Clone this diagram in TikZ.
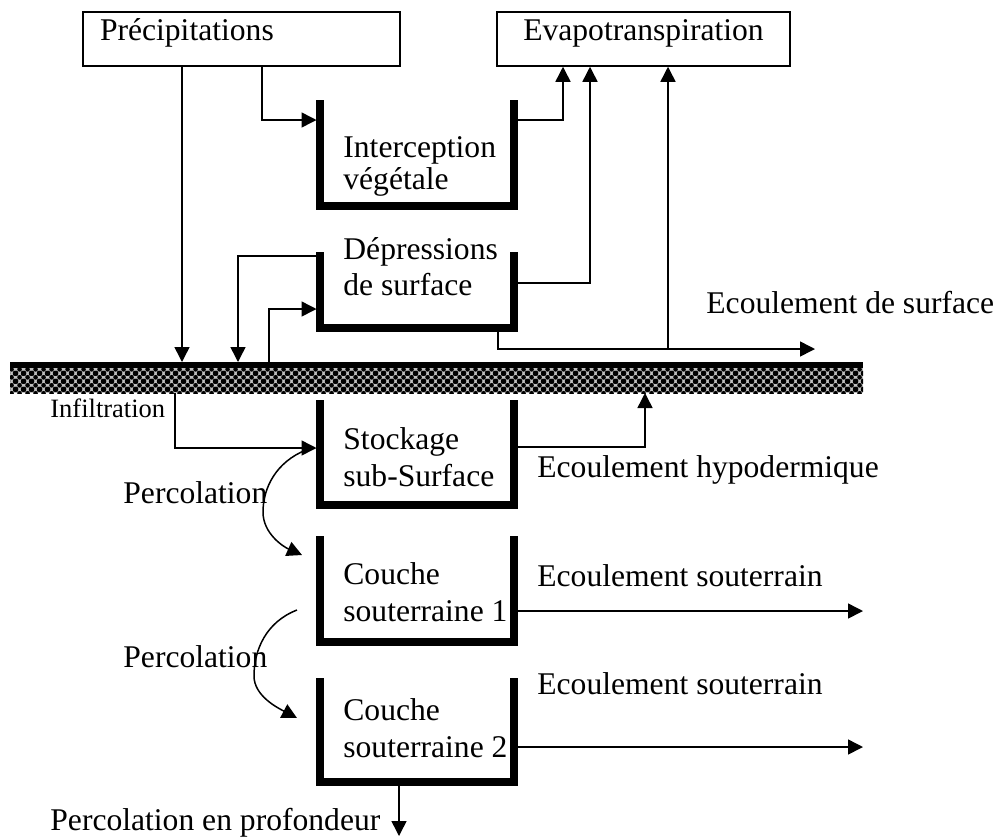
\documentclass[tikz,border=0pt]{standalone}
\usepackage{fontspec}
\setmainfont{Liberation Serif}
\usetikzlibrary{arrows.meta,patterns}
\pgfdeclarepatternformonly{gravel}{\pgfpointorigin}{\pgfpoint{4pt}{4pt}}{\pgfpoint{4pt}{4pt}}{%
  \pgfpathcircle{\pgfpoint{0pt}{0pt}}{1.3pt}%
  \pgfpathcircle{\pgfpoint{4pt}{0pt}}{1.3pt}%
  \pgfpathcircle{\pgfpoint{0pt}{4pt}}{1.3pt}%
  \pgfpathcircle{\pgfpoint{4pt}{4pt}}{1.3pt}%
  \pgfpathcircle{\pgfpoint{2pt}{2pt}}{1.3pt}%
  \pgfusepath{fill}%
}
\begin{document}
\begin{tikzpicture}[x=0.5pt,y=-0.5pt,
  font=\fontsize{15.8}{19}\selectfont,
  conn/.style={line width=0.75pt,-{Triangle[length=7.5pt,width=7.5pt]}},
  wall/.style={line width=3.6pt,line join=miter},
  lbl/.style={anchor=base west,inner sep=0pt},
  box/.style={draw,line width=0.75pt,minimum height=27pt,text height=0.6em,text depth=0.45em,inner ysep=0pt}]
\useasboundingbox (0,0) rectangle (1000,836);

% top boxes
\node[box,minimum width=158.5pt,inner xsep=8.5pt,text width=141.5pt,align=left] (prec) at (241.5,39) {Précipitations};
\node[box,minimum width=146.5pt,inner xsep=0pt] (evap) at (643.5,39) {Evapotranspiration};

% ground
\fill[black!25] (10,368) rectangle (863,393);
\fill[pattern=gravel] (10,368) rectangle (863,393);
\fill (10,362) rectangle (863,368);

% reservoirs
\draw[wall] (320,100) |- (514,206) -- (514,100);
\draw[wall] (320,252) |- (514,328) -- (514,252);
\draw[wall] (320,400) |- (514,505) -- (514,400);
\draw[wall] (320,536) |- (514,642) -- (514,536);
\draw[wall] (320,678) |- (514,782) -- (514,678);

% texts
\node[lbl] (tI1) at (343,157) {Interception};
\node[lbl] (tI2) at (343,189) {végétale};
\node[lbl] (tD1) at (343,259) {Dépressions};
\node[lbl] (tD2) at (343,295) {de surface};
\node[lbl] (tS1) at (343,449) {Stockage};
\node[lbl] (tS2) at (343,486) {sub-Surface};
\node[lbl] (tA1) at (343,584) {Couche};
\node[lbl] (tA2) at (343,621) {souterraine 1};
\node[lbl] (tB1) at (343,720) {Couche};
\node[lbl] (tB2) at (343,757) {souterraine 2};
\node[lbl] (tSurf) at (706,313) {Ecoulement de surface};
\node[lbl] (tHyp) at (537,477) {Ecoulement hypodermique};
\node[lbl] (tSoA) at (537,586) {Ecoulement souterrain};
\node[lbl] (tSoB) at (537,694) {Ecoulement souterrain};
\node[lbl] (tPA) at (123,503) {Percolation};
\node[lbl] (tPB) at (123,667) {Percolation};
\node[lbl] (tDeep) at (50,830) {Percolation en profondeur};
\node[lbl,font=\fontsize{13.25}{16}\selectfont] (tInf) at (50,417) {Infiltration};

% connector end points
\coordinate (gPrec) at (182,362);
\coordinate (gDepIn) at (238,362);
\coordinate (gDepOut) at (269,362);
\coordinate (gInf) at (175,393);
\coordinate (gHyp) at (645,393);
\coordinate (pI) at (262,120);
\coordinate (interL) at (316.5,120);
\coordinate (interR) at (517.5,120);
\coordinate (eI) at (563,0);
\coordinate (eD) at (590,0);
\coordinate (depLa) at (316.5,256);
\coordinate (depLb) at (316.5,309);
\coordinate (depR) at (517.5,283);
\coordinate (depB) at (498,331.5);
\coordinate (surfJ) at (668,349);
\coordinate (surf) at (815,349);
\coordinate (stockL) at (316.5,448);
\coordinate (stockR) at (517.5,447);
\coordinate (cAR) at (517.5,611);
\coordinate (cAend) at (863,611);
\coordinate (cBR) at (517.5,747);
\coordinate (cBend) at (863,747);
\coordinate (cBB) at (399,785.5);
\coordinate (deep) at (399,836);
\coordinate (pA1) at (306,450);
\coordinate (pA2) at (302,555);
\coordinate (pB1) at (297,610);
\coordinate (pB2) at (297,718);

% connectors
\draw[conn] (prec.south -| gPrec) -- (gPrec);
\draw[conn] (prec.south -| pI) -- (pI) -- (interL);
\draw[conn] (interR) -| (evap.south -| eI);
\draw[conn] (depR) -| (evap.south -| eD);
\draw[conn] (surfJ) -- (evap.south -| surfJ);
\draw[conn] (depLa) -| (gDepIn);
\draw[conn] (gDepOut) |- (depLb);
\draw[conn] (depB) |- (surf);
\draw[conn] (gInf) |- (stockL);
\draw[conn] (stockR) -| (gHyp);
\draw[conn] (cAR) -- (cAend);
\draw[conn] (cBR) -- (cBend);
\draw[conn] (cBB) -- (deep);
\draw[conn] (pA1) .. controls (276,462) and (263,488) .. (263,512) .. controls (263,534) and (284,547) .. (pA2);
\draw[conn] (pB1) .. controls (266,622) and (254,650) .. (254,676) .. controls (254,696) and (278,708) .. (pB2);
\end{tikzpicture}
\end{document}
